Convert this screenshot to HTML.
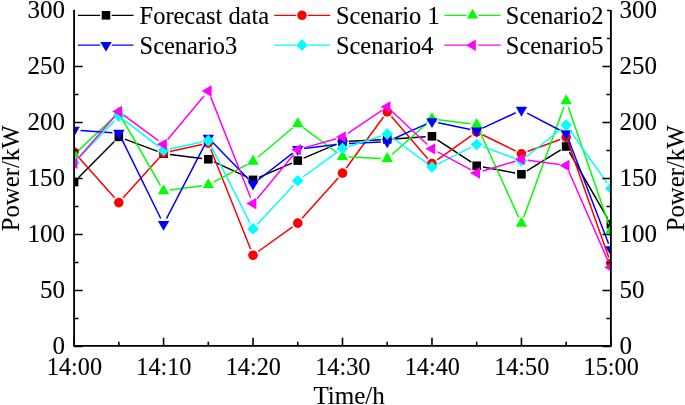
<!DOCTYPE html>
<html><head><meta charset="utf-8"><style>
html,body{margin:0;padding:0;background:#fff;}
svg{display:block;}
text{font-family:"Liberation Serif",serif;font-size:25px;fill:#000;stroke:#000;stroke-width:0.12px;}
svg{will-change:transform;}
</style></head><body>
<svg width="685" height="405" viewBox="0 0 685 405">
<defs><clipPath id="c"><rect x="74.10" y="9.30" width="536.80" height="337.00"/></clipPath></defs>
<g clip-path="url(#c)">
<path d="M78.61 177.45L114.33 141.41M124.82 139.11L157.58 151.41M169.92 154.45L201.95 158.47M214.11 161.94L247.22 177.19M258.91 177.34L291.89 163.14M303.66 158.11L336.61 144.17M348.89 141.34L380.84 139.66M393.62 138.89L425.58 136.73M437.31 139.82L471.35 162.24M482.99 166.95L515.15 173.07M526.87 170.89L560.73 149.87M569.36 152.04L607.70 218.56" stroke="#000000" stroke-width="1.5" fill="none"/>
<rect x="69.80" y="177.70" width="8.60" height="8.60" fill="#000000"/>
<rect x="114.53" y="132.56" width="8.60" height="8.60" fill="#000000"/>
<rect x="159.27" y="149.36" width="8.60" height="8.60" fill="#000000"/>
<rect x="204.00" y="154.96" width="8.60" height="8.60" fill="#000000"/>
<rect x="248.73" y="175.57" width="8.60" height="8.60" fill="#000000"/>
<rect x="293.47" y="156.30" width="8.60" height="8.60" fill="#000000"/>
<rect x="338.20" y="137.38" width="8.60" height="8.60" fill="#000000"/>
<rect x="382.93" y="135.02" width="8.60" height="8.60" fill="#000000"/>
<rect x="427.67" y="132.00" width="8.60" height="8.60" fill="#000000"/>
<rect x="472.40" y="161.46" width="8.60" height="8.60" fill="#000000"/>
<rect x="517.13" y="169.97" width="8.60" height="8.60" fill="#000000"/>
<rect x="561.87" y="142.19" width="8.60" height="8.60" fill="#000000"/>
<rect x="606.60" y="219.81" width="8.60" height="8.60" fill="#000000"/>
<path d="M78.34 156.88L114.59 197.81M123.12 197.85L159.28 157.74M169.82 151.60L202.05 144.46M210.67 149.02L250.66 249.30M258.23 251.51L292.57 226.83M302.04 218.33L338.23 177.92M346.27 167.98L383.46 116.94M391.42 116.61L427.78 158.67M437.19 159.82L471.47 135.62M482.45 134.74L515.68 150.96M527.44 151.56L560.16 139.52M568.31 143.34L608.76 257.39" stroke="#ff0000" stroke-width="1.5" fill="none"/>
<circle cx="74.10" cy="152.09" r="4.80" fill="#ff0000"/>
<circle cx="118.83" cy="202.60" r="4.80" fill="#ff0000"/>
<circle cx="163.57" cy="152.99" r="4.80" fill="#ff0000"/>
<circle cx="208.30" cy="143.08" r="4.80" fill="#ff0000"/>
<circle cx="253.03" cy="255.24" r="4.80" fill="#ff0000"/>
<circle cx="297.77" cy="223.10" r="4.80" fill="#ff0000"/>
<circle cx="342.50" cy="173.15" r="4.80" fill="#ff0000"/>
<circle cx="387.23" cy="111.77" r="4.80" fill="#ff0000"/>
<circle cx="431.97" cy="163.52" r="4.80" fill="#ff0000"/>
<circle cx="476.70" cy="131.93" r="4.80" fill="#ff0000"/>
<circle cx="521.43" cy="153.77" r="4.80" fill="#ff0000"/>
<circle cx="566.17" cy="137.31" r="4.80" fill="#ff0000"/>
<circle cx="610.90" cy="263.42" r="4.80" fill="#ff0000"/>
<path d="M78.78 150.08L114.15 117.14M122.01 118.33L160.39 185.40M169.91 190.08L201.96 185.67M213.97 181.83L247.36 164.36M257.92 157.26L292.88 127.77M302.91 127.45L337.36 152.99M348.89 157.07L380.84 158.43M392.02 154.45L427.18 123.19M438.32 119.75L470.35 123.84M479.34 130.48L518.79 217.61M523.63 217.42L563.97 106.92M568.26 106.96L608.81 224.22" stroke="#00ff00" stroke-width="1.5" fill="none"/>
<path d="M74.10 147.84L79.82 157.74L68.38 157.74Z" fill="#00ff00"/>
<path d="M118.83 106.18L124.55 116.08L113.12 116.08Z" fill="#00ff00"/>
<path d="M163.57 184.36L169.28 194.26L157.85 194.26Z" fill="#00ff00"/>
<path d="M208.30 178.20L214.02 188.10L202.58 188.10Z" fill="#00ff00"/>
<path d="M253.03 154.79L258.75 164.69L247.32 164.69Z" fill="#00ff00"/>
<path d="M297.77 117.04L303.48 126.94L292.05 126.94Z" fill="#00ff00"/>
<path d="M342.50 150.20L348.22 160.10L336.78 160.10Z" fill="#00ff00"/>
<path d="M387.23 152.10L392.95 162.00L381.52 162.00Z" fill="#00ff00"/>
<path d="M431.97 112.34L437.68 122.24L426.25 122.24Z" fill="#00ff00"/>
<path d="M476.70 118.05L482.42 127.95L470.98 127.95Z" fill="#00ff00"/>
<path d="M521.43 216.84L527.15 226.74L515.72 226.74Z" fill="#00ff00"/>
<path d="M566.17 94.31L571.88 104.21L560.45 104.21Z" fill="#00ff00"/>
<path d="M610.90 223.67L616.62 233.57L605.18 233.57Z" fill="#00ff00"/>
<path d="M80.49 130.57L112.45 132.73M121.66 138.91L160.74 218.48M166.51 218.54L205.35 143.66M212.77 142.56L248.57 179.32M258.10 179.98L292.70 153.21M304.12 148.50L336.15 144.49M348.89 143.40L380.84 141.96M393.07 139.05L426.13 124.15M438.23 122.82L470.43 129.51M482.51 128.12L515.63 112.78M527.10 113.06L560.50 130.53M568.47 139.47L608.60 243.67" stroke="#0000ff" stroke-width="1.5" fill="none"/>
<path d="M74.10 136.74L79.82 126.84L68.38 126.84Z" fill="#0000ff"/>
<path d="M118.83 139.76L124.55 129.86L113.12 129.86Z" fill="#0000ff"/>
<path d="M163.57 230.82L169.28 220.92L157.85 220.92Z" fill="#0000ff"/>
<path d="M208.30 144.58L214.02 134.68L202.58 134.68Z" fill="#0000ff"/>
<path d="M253.03 190.50L258.75 180.60L247.32 180.60Z" fill="#0000ff"/>
<path d="M297.77 155.89L303.48 145.99L292.05 145.99Z" fill="#0000ff"/>
<path d="M342.50 150.29L348.22 140.39L336.78 140.39Z" fill="#0000ff"/>
<path d="M387.23 148.28L392.95 138.38L381.52 138.38Z" fill="#0000ff"/>
<path d="M431.97 128.12L437.68 118.22L426.25 118.22Z" fill="#0000ff"/>
<path d="M476.70 137.41L482.42 127.51L470.98 127.51Z" fill="#0000ff"/>
<path d="M521.43 116.69L527.15 106.79L515.72 106.79Z" fill="#0000ff"/>
<path d="M566.17 140.10L571.88 130.20L560.45 130.20Z" fill="#0000ff"/>
<path d="M610.90 256.24L616.62 246.34L605.18 246.34Z" fill="#0000ff"/>
<path d="M78.53 158.11L114.41 120.65M123.91 119.92L158.49 146.41M169.82 148.95L202.04 142.02M211.19 146.38L250.14 223.22M257.39 224.23L293.41 185.45M302.95 177.01L337.31 152.15M348.59 146.43L381.14 135.92M392.38 137.75L426.82 163.19M437.68 164.11L470.98 147.35M482.71 146.67L515.42 158.58M526.43 156.77L561.17 128.99M569.86 130.22L607.21 183.15" stroke="#00ffff" stroke-width="1.5" fill="none"/>
<path d="M74.10 156.88L79.95 162.73L74.10 168.58L68.25 162.73Z" fill="#00ffff"/>
<path d="M118.83 110.18L124.68 116.03L118.83 121.88L112.98 116.03Z" fill="#00ffff"/>
<path d="M163.57 144.45L169.42 150.30L163.57 156.15L157.72 150.30Z" fill="#00ffff"/>
<path d="M208.30 134.82L214.15 140.67L208.30 146.52L202.45 140.67Z" fill="#00ffff"/>
<path d="M253.03 223.07L258.88 228.92L253.03 234.77L247.18 228.92Z" fill="#00ffff"/>
<path d="M297.77 174.91L303.62 180.76L297.77 186.61L291.92 180.76Z" fill="#00ffff"/>
<path d="M342.50 142.55L348.35 148.40L342.50 154.25L336.65 148.40Z" fill="#00ffff"/>
<path d="M387.23 128.10L393.08 133.95L387.23 139.80L381.38 133.95Z" fill="#00ffff"/>
<path d="M431.97 161.14L437.82 166.99L431.97 172.84L426.12 166.99Z" fill="#00ffff"/>
<path d="M476.70 138.63L482.55 144.48L476.70 150.33L470.85 144.48Z" fill="#00ffff"/>
<path d="M521.43 154.92L527.28 160.77L521.43 166.62L515.58 160.77Z" fill="#00ffff"/>
<path d="M566.17 119.14L572.02 124.99L566.17 130.84L560.32 124.99Z" fill="#00ffff"/>
<path d="M610.90 182.53L616.75 188.38L610.90 194.23L605.05 188.38Z" fill="#00ffff"/>
<path d="M78.29 158.34L114.64 116.39M123.99 115.33L158.41 140.58M167.68 139.46L204.19 95.85M210.66 96.89L250.67 197.66M257.12 198.68L293.68 154.56M303.92 147.89L336.34 138.71M347.81 133.40L381.93 110.42M391.90 111.22L427.30 144.46M437.60 151.88L471.06 169.89M482.83 171.07L515.31 161.23M527.78 160.23L559.82 164.56M568.74 171.28L608.33 261.59" stroke="#ff00ff" stroke-width="1.5" fill="none"/>
<path d="M67.50 163.18L77.40 157.46L77.40 168.90Z" fill="#ff00ff"/>
<path d="M112.23 111.55L122.13 105.83L122.13 117.26Z" fill="#ff00ff"/>
<path d="M156.97 144.36L166.87 138.65L166.87 150.08Z" fill="#ff00ff"/>
<path d="M201.70 90.94L211.60 85.22L211.60 96.66Z" fill="#ff00ff"/>
<path d="M246.43 203.61L256.33 197.90L256.33 209.33Z" fill="#ff00ff"/>
<path d="M291.17 149.63L301.07 143.91L301.07 155.34Z" fill="#ff00ff"/>
<path d="M335.90 136.97L345.80 131.26L345.80 142.69Z" fill="#ff00ff"/>
<path d="M380.63 106.84L390.53 101.13L390.53 112.56Z" fill="#ff00ff"/>
<path d="M425.37 148.84L435.27 143.13L435.27 154.56Z" fill="#ff00ff"/>
<path d="M470.10 172.92L480.00 167.21L480.00 178.64Z" fill="#ff00ff"/>
<path d="M514.83 159.37L524.73 153.66L524.73 165.09Z" fill="#ff00ff"/>
<path d="M559.57 165.42L569.47 159.70L569.47 171.14Z" fill="#ff00ff"/>
<path d="M604.30 267.45L614.20 261.74L614.20 273.17Z" fill="#ff00ff"/>
</g>
<path d="M74.10 10.10V346.70M610.90 10.10V346.70M73.20 345.85H611.80" stroke="#000" stroke-width="1.85" fill="none"/>
<path d="M74.10 346.55h8.5M610.90 346.55h-8.5M74.10 318.55h4.5M610.90 318.55h-4.5M74.10 290.55h8.5M610.90 290.55h-8.5M74.10 262.55h4.5M610.90 262.55h-4.5M74.10 234.55h8.5M610.90 234.55h-8.5M74.10 206.55h4.5M610.90 206.55h-4.5M74.10 178.55h8.5M610.90 178.55h-8.5M74.10 150.55h4.5M610.90 150.55h-4.5M74.10 122.55h8.5M610.90 122.55h-8.5M74.10 94.55h4.5M610.90 94.55h-4.5M74.10 66.55h8.5M610.90 66.55h-8.5M74.10 38.55h4.5M610.90 38.55h-4.5M74.10 10.55h8.5M610.90 10.55h-8.5M74.10 346.30v-8.5M118.83 346.30v-4.5M163.57 346.30v-8.5M208.30 346.30v-4.5M253.03 346.30v-8.5M297.77 346.30v-4.5M342.50 346.30v-8.5M387.23 346.30v-4.5M431.97 346.30v-8.5M476.70 346.30v-4.5M521.43 346.30v-8.5M566.17 346.30v-4.5M610.90 346.30v-8.5" stroke="#000" stroke-width="1.6" fill="none"/>
<rect x="75.05" y="0" width="532" height="60" fill="#fff"/>
<path d="M78 15.3H100.2M111.8 15.3H133.5" stroke="#000000" stroke-width="1.3"/>
<rect x="101.70" y="11.00" width="8.60" height="8.60" fill="#000000"/>
<text transform="translate(139.6 23.80) scale(0.977 1)">Forecast data</text>
<path d="M274.2 15.3H296.2M307.8 15.3H330.2" stroke="#ff0000" stroke-width="1.3"/>
<circle cx="302.00" cy="15.30" r="4.80" fill="#ff0000"/>
<text transform="translate(335.9 23.80) scale(0.977 1)">Scenario 1</text>
<path d="M444.4 15.3H466.7M478.3 15.3H500.7" stroke="#00ff00" stroke-width="1.3"/>
<path d="M472.50 8.70L478.22 18.60L466.78 18.60Z" fill="#00ff00"/>
<text transform="translate(505.8 23.80) scale(0.977 1)">Scenario2</text>
<path d="M78 45.2H100.2M111.8 45.2H133.5" stroke="#0000ff" stroke-width="1.3"/>
<path d="M106.00 51.80L111.72 41.90L100.28 41.90Z" fill="#0000ff"/>
<text transform="translate(139.6 53.70) scale(0.977 1)">Scenario3</text>
<path d="M274.2 45.2H296.2M307.8 45.2H330.2" stroke="#00ffff" stroke-width="1.3"/>
<path d="M302.00 39.35L307.85 45.20L302.00 51.05L296.15 45.20Z" fill="#00ffff"/>
<text transform="translate(335.9 53.70) scale(0.977 1)">Scenario4</text>
<path d="M444.4 45.2H466.7M478.3 45.2H500.7" stroke="#ff00ff" stroke-width="1.3"/>
<path d="M465.90 45.20L475.80 39.48L475.80 50.92Z" fill="#ff00ff"/>
<text transform="translate(505.8 53.70) scale(0.977 1)">Scenario5</text>
<text x="65" y="354.30" text-anchor="end">0</text>
<text x="619.5" y="354.30" text-anchor="start">0</text>
<text x="65" y="298.30" text-anchor="end">50</text>
<text x="619.5" y="298.30" text-anchor="start">50</text>
<text x="65" y="242.30" text-anchor="end">100</text>
<text x="619.5" y="242.30" text-anchor="start">100</text>
<text x="65" y="186.30" text-anchor="end">150</text>
<text x="619.5" y="186.30" text-anchor="start">150</text>
<text x="65" y="130.30" text-anchor="end">200</text>
<text x="619.5" y="130.30" text-anchor="start">200</text>
<text x="65" y="74.30" text-anchor="end">250</text>
<text x="619.5" y="74.30" text-anchor="start">250</text>
<text x="65" y="18.30" text-anchor="end">300</text>
<text x="619.5" y="18.30" text-anchor="start">300</text>
<text transform="translate(74.40 374.7) scale(0.97 1)" text-anchor="middle">14:00</text>
<text transform="translate(163.87 374.7) scale(0.97 1)" text-anchor="middle">14:10</text>
<text transform="translate(253.33 374.7) scale(0.97 1)" text-anchor="middle">14:20</text>
<text transform="translate(342.80 374.7) scale(0.97 1)" text-anchor="middle">14:30</text>
<text transform="translate(432.27 374.7) scale(0.97 1)" text-anchor="middle">14:40</text>
<text transform="translate(521.73 374.7) scale(0.97 1)" text-anchor="middle">14:50</text>
<text transform="translate(611.20 374.7) scale(0.97 1)" text-anchor="middle">15:00</text>
<text x="349.1" y="404.4" text-anchor="middle">Time/h</text>
<text transform="translate(18.9 178.4) rotate(-90) scale(0.99 1)" text-anchor="middle">Power/kW</text>
<text transform="translate(683.9 178.4) rotate(-90) scale(0.99 1)" text-anchor="middle">Power/kW</text>
</svg>
</body></html>
